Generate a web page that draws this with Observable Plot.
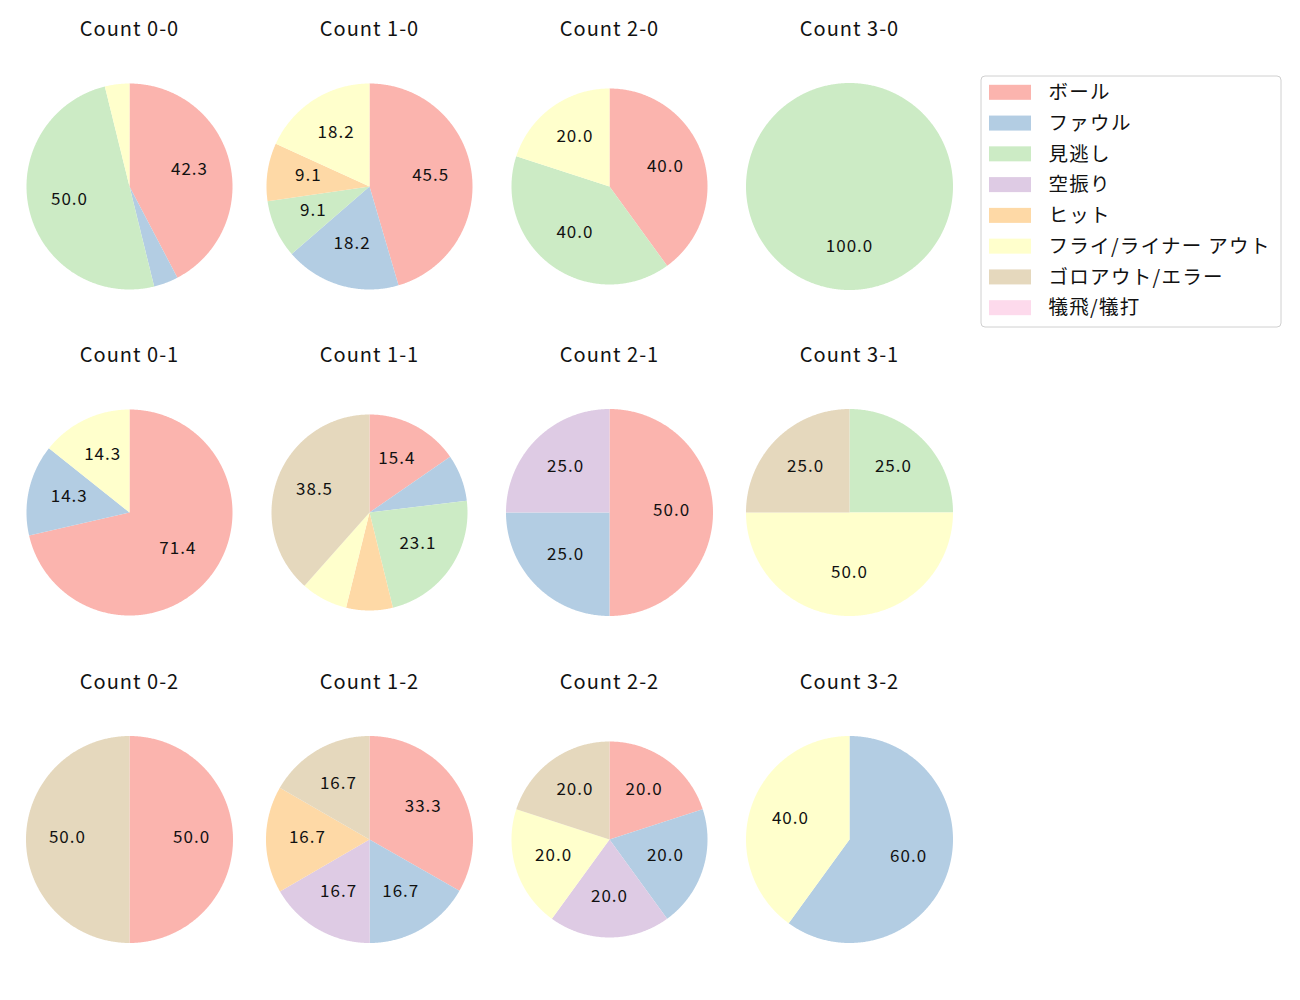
<!DOCTYPE html>
<html><head><meta charset="utf-8">
<script src="https://cdn.jsdelivr.net/npm/d3@7"></script>
<script src="https://cdn.jsdelivr.net/npm/@observablehq/plot@0.6"></script>
<style>body{margin:0;background:#fff}</style>
</head><body><div id="chart"></div>
<script>
// ---- data ----
const categories = ["ボール","ファウル","見逃し","空振り","ヒット","フライ/ライナー アウト","ゴロアウト/エラー","犠飛/犠打"];
const palette = ["#fbb4ae","#b3cde3","#ccebc5","#decbe4","#fed9a6","#ffffcc","#e5d8bd","#fddaec"];
const countLabels = ["0-0","1-0","2-0","3-0","0-1","1-1","2-1","3-1","0-2","1-2","2-2","3-2"];
const count00 = [42.3, 3.85, 50.0, 0, 0, 3.85, 0, 0];
const count10 = [45.5, 18.2, 9.1, 0, 9.1, 18.2, 0, 0];
const count20 = [40.0, 0, 40.0, 0, 0, 20.0, 0, 0];
const count30 = [0, 0, 100.0, 0, 0, 0, 0, 0];
const count01 = [71.4, 14.3, 0, 0, 0, 14.3, 0, 0];
const count11 = [15.4, 7.7, 23.1, 0, 7.7, 7.7, 38.5, 0];
const count21 = [50.0, 25.0, 0, 25.0, 0, 0, 0, 0];
const count31 = [0, 0, 25.0, 0, 0, 50.0, 25.0, 0];
const count02 = [50.0, 0, 0, 0, 0, 0, 50.0, 0];
const count12 = [33.3, 16.7, 0, 16.7, 16.7, 0, 16.7, 0];
const count22 = [20.0, 20.0, 0, 20.0, 0, 20.0, 20.0, 0];
const count32 = [0, 60.0, 0, 0, 0, 40.0, 0, 0];
const countValues = [count00,count10,count20,count30,count01,count11,count21,count31,count02,count12,count22,count32];

// ---- layout ----
const W = 1300, H = 1000;
const colX = [129, 369, 609, 849];
const rowY = [186, 512, 839];
const radii = [103,103,98,103.5, 103,98,103.5,103.5, 103.5,103.5,98,103.5];
const titleOffset = 157;
const labelThreshold = 8;
const legendBox = {x1: 981, x2: 1281, y1: 76, y2: 327};
const legendRow0 = 92.3, legendStep = 30.77;

const wedges = [], labels = [], titles = [];
countLabels.forEach((c, i) => {
  const cx = colX[i % 4], cy = rowY[Math.floor(i / 4)], r = radii[i];
  titles.push({x: cx, y: cy - titleOffset, text: "Count " + c});
  const data = categories.map((cat, j) => ({cat, v: countValues[i][j]})).filter(d => d.v > 0);
  const arcs = d3.pie().sort(null).value(d => d.v)(data);
  arcs.forEach((a, k) => {
    const id = c + "#" + k, cat = a.data.cat;
    const span = a.endAngle - a.startAngle;
    const n = Math.max(2, Math.ceil(span / (Math.PI / 360)));
    wedges.push({id, cat, x: cx, y: cy});
    for (let s = 0; s <= n; s++) {
      const t = a.startAngle + span * s / n;
      wedges.push({id, cat, x: cx + r * Math.sin(t), y: cy - r * Math.cos(t)});
    }
    if (a.data.v >= labelThreshold) {
      const m = (a.startAngle + a.endAngle) / 2;
      labels.push({x: cx + 0.6 * r * Math.sin(m), y: cy - 0.6 * r * Math.cos(m), text: a.data.v.toFixed(1)});
    }
  });
});
const legendRows = categories.map((cat, j) => ({cat, y: legendRow0 + j * legendStep}));

const chart = Plot.plot({
  width: W, height: H, margin: 0,
  x: {domain: [0, W], range: [0, W], axis: null},
  y: {domain: [0, H], range: [0, H], axis: null},
  color: {domain: categories, range: palette},
  style: {fontFamily: "'Noto Sans CJK JP', 'Noto Sans', sans-serif", background: "white", color: "black"},
  marks: [
    Plot.line(wedges, {x: "x", y: "y", z: "id", fill: "cat", stroke: "none", curve: "linear-closed"}),
    Plot.text(labels, {x: "x", y: "y", text: "text", fontSize: 17, dy: -2, fill: "#111"}),
    Plot.text(titles, {x: "x", y: "y", text: "text", fontSize: 20, fill: "#111"}),
    Plot.rect([legendBox], {x1: "x1", x2: "x2", y1: "y1", y2: "y2", fill: "white", stroke: "#d0d0d0", rx: 4}),
    Plot.rect(legendRows, {x1: () => 989, x2: () => 1031, y1: d => d.y - 7.5, y2: d => d.y + 7.5, fill: "cat"}),
    Plot.text(legendRows, {x: () => 1048, y: "y", text: "cat", textAnchor: "start", fontSize: 19.5, fill: "#111"})
  ]
});
// widen letter spacing to mimic the reference font's wider glyph advances
d3.select(chart).selectAll("text").each(function() {
  const t = this.textContent;
  let ls = "1.3px";
  if (t.startsWith("Count")) ls = "1px";
  else if (/^\d+\.\d$/.test(t)) ls = "1px";
  this.style.letterSpacing = ls;
});
document.getElementById("chart").appendChild(chart);
</script>
</body></html>
